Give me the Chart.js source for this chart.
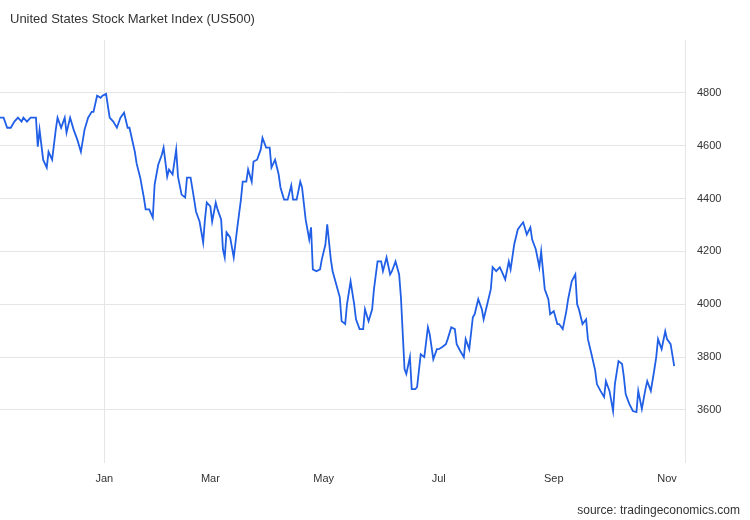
<!DOCTYPE html>
<html><head><meta charset="utf-8">
<script src="https://cdn.jsdelivr.net/npm/chart.js@4/dist/chart.umd.min.js"></script>
<style>
html,body{margin:0;padding:0;background:#fff;}
#wrap{position:relative;width:750px;height:520px;font-family:"Liberation Sans",Arial,sans-serif;}
#title{position:absolute;left:10px;top:11px;font-size:13px;color:#333;}
#src{position:absolute;right:10px;top:503px;font-size:12px;color:#333;}
#c{position:absolute;left:0;top:0;}
</style></head><body>
<div id="wrap">
<canvas id="c" width="750" height="520"></canvas>
<div id="title">United States Stock Market Index (US500)</div>
<div id="src">source: tradingeconomics.com</div>
</div>
<script>
// day offsets (axis units, 0 = Jan 1 2022)
const days = [-58,-56,-54,-52,-50,-48,-46,-45,-43,-41,-38,-37,-36,-34,-32,-31,-29,-27,-26,-24,-22,-21,-19,-17,-15,-13,-11,-9,-7,-6,-4,-2,-1,1,3,5,7,9,11,13,14,17,18,20,22,23,25,27,28,30,32,33,35,36,38,40,41,43,45,46,48,50,51,53,55,56,57,59,60,62,63,65,66,67,68,70,72,74,76,77,79,80,82,83,85,87,88,90,92,93,95,97,98,100,102,104,105,107,109,110,112,114,115,116,118,120,121,123,124,126,127,129,131,132,134,135,137,139,140,142,144,145,147,149,150,152,154,155,157,159,160,162,164,165,167,168,170,171,173,174,176,178,180,181,183,185,186,188,190,191,193,195,196,198,200,201,203,205,206,208,210,211,213,215,216,218,220,221,223,225,226,228,230,232,233,235,237,238,240,242,243,245,247,248,250,252,253,255,257,258,260,262,263,264,266,268,269,271,273,274,276,278,279,281,283,284,286,288,289,290,292,294,296,297,299,301,302,304,306,307,308,310,312,313,315,317];
const values = [4706,4706,4668,4668,4691,4706,4691,4706,4691,4706,4706,4596,4660,4547,4517,4577,4547,4660,4706,4668,4706,4649,4706,4660,4623,4577,4660,4706,4728,4728,4789,4781,4789,4796,4706,4691,4668,4706,4725,4668,4668,4577,4532,4479,4404,4359,4359,4328,4453,4528,4566,4593,4483,4510,4491,4585,4483,4415,4404,4479,4479,4396,4351,4313,4234,4321,4385,4370,4313,4385,4359,4321,4208,4177,4272,4253,4177,4291,4396,4464,4464,4510,4464,4540,4547,4585,4630,4593,4593,4517,4547,4491,4442,4396,4396,4449,4396,4396,4464,4442,4321,4245,4291,4132,4125,4132,4170,4226,4302,4170,4125,4076,4026,3936,3925,4000,4087,4000,3943,3906,3906,3981,3936,3981,4057,4162,4162,4125,4177,4113,4125,4162,4113,4026,3755,3736,3800,3679,3679,3687,3811,3800,3913,3887,3792,3830,3830,3838,3849,3868,3913,3906,3849,3823,3800,3868,3830,3951,3962,4019,3981,3943,4000,4057,4140,4125,4140,4125,4094,4162,4132,4226,4283,4302,4310,4264,4291,4245,4208,4140,4200,4057,4019,3962,3974,3925,3925,3906,3974,4019,4087,4113,4000,3981,3925,3943,3868,3811,3751,3698,3672,3649,3709,3672,3596,3698,3785,3774,3725,3660,3623,3596,3592,3672,3604,3679,3709,3672,3755,3800,3868,3830,3898,3868,3849,3766,3766];
const yTicks = [3600,3800,4000,4200,4400,4600,4800];
const monthLabels = ["Jan","Mar","May","Jul","Sep","Nov"];
const monthPos = [0,59,122,186,250,313];

new Chart(document.getElementById('c'), {
  type:'line',
  data:{datasets:[{data:days.map((d,i)=>({x:d,y:values[i]})),borderColor:'#2160e6',borderWidth:1.8,pointRadius:0,tension:0}]},
  options:{
    responsive:false,animation:false,
    layout:{padding:{top:40,bottom:24,left:0,right:0}},
    plugins:{legend:{display:false},tooltip:{enabled:false}},
    scales:{
      x:{type:'linear',min:-58,max:323,
        afterBuildTicks:(a)=>{a.ticks=monthPos.map(v=>({value:v}));},
        ticks:{autoSkip:false,maxRotation:0,color:'#333',padding:10,font:{size:11,family:'Liberation Sans'},callback:(v)=>monthLabels[monthPos.indexOf(v)]},
        grid:{color:(c)=>c.tick&&c.tick.value===0?'#e6e6e6':'rgba(0,0,0,0)',drawTicks:false},
        border:{display:false}},
      y:{position:'right',min:3400,max:5000,
        afterFit:(s)=>{s.width=65;},
        afterBuildTicks:(a)=>{a.ticks=yTicks.map(v=>({value:v}));},
        ticks:{color:'#333',font:{size:11,family:'Liberation Sans'},padding:12,callback:(v)=>String(v)},
        grid:{color:'#e6e6e6',drawTicks:false},
        border:{display:true,color:'#e6e6e6'}}
    }
  }
});
</script>
</body></html>
